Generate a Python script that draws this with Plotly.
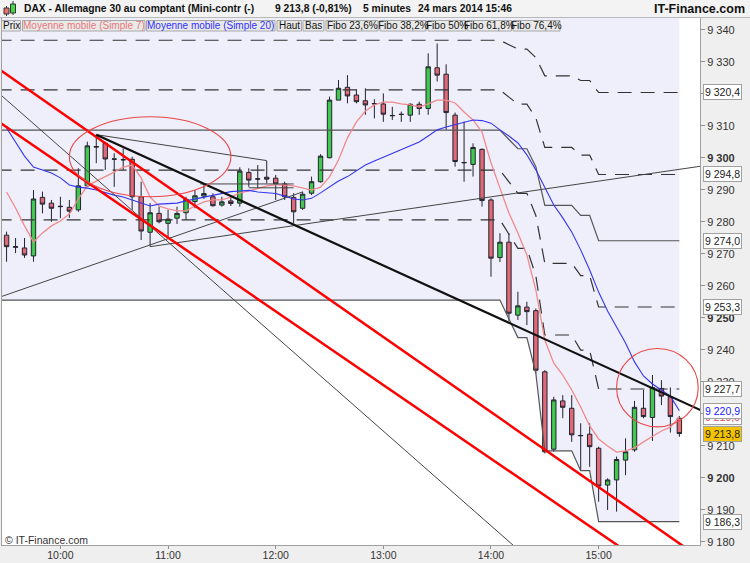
import pandas as pd
import plotly.graph_objects as go

# ---------------- data ----------------
times = [t.strftime("%Y-%m-%d %H:%M")
         for t in pd.date_range("2014-03-24 09:30", "2014-03-24 15:45", freq="5min")]
opens = [9275.8, 9272.0, 9271.8, 9269.3, 9287.6, 9285.8, 9284.7, 9284.5, 9283.7, 9291.2,
         9303.3, 9304.5, 9299.5, 9299.3, 9299.5, 9287.8, 9276.7, 9282.6, 9279.5, 9281.1,
         9282.8, 9286.3, 9288.0, 9287.8, 9285.2, 9286.5, 9285.8, 9295.4, 9293.3, 9293.9,
         9293.6, 9291.8, 9287.6, 9284.2, 9288.9, 9292.5, 9300.0, 9318.0, 9322.0, 9319.6,
         9317.8, 9316.8, 9316.8, 9313.1, 9313.6, 9313.3, 9316.7, 9315.4, 9328.1, 9326.1,
         9313.3, 9298.4, 9297.9, 9302.6, 9286.8, 9268.8, 9273.6, 9250.8, 9253.3, 9252.2,
         9233.1, 9208.9, 9224.0, 9221.7, 9213.1, 9213.6, 9209.2, 9197.7, 9199.3, 9205.5,
         9208.7, 9221.7, 9218.8, 9227.9, 9225.3, 9218.6]
highs = [9276.9, 9274.9, 9274.9, 9289.9, 9289.4, 9286.8, 9287.8, 9286.8, 9296.7, 9305.0,
         9307.1, 9305.0, 9301.4, 9302.9, 9300.3, 9292.5, 9285.8, 9284.7, 9283.7, 9284.7,
         9287.8, 9289.9, 9291.5, 9288.9, 9287.8, 9287.8, 9297.0, 9296.7, 9297.7, 9299.0,
         9294.6, 9292.5, 9288.9, 9289.4, 9294.1, 9301.1, 9319.1, 9324.3, 9325.8, 9321.4,
         9321.7, 9318.3, 9320.1, 9315.9, 9314.4, 9317.0, 9317.5, 9332.6, 9335.7, 9329.2,
         9314.1, 9311.3, 9304.5, 9302.9, 9287.3, 9276.4, 9276.4, 9258.1, 9255.0, 9252.9,
         9233.6, 9225.3, 9225.8, 9225.8, 9217.0, 9217.0, 9209.7, 9199.8, 9206.6, 9212.3,
         9224.0, 9227.4, 9232.1, 9230.5, 9228.2, 9219.3]
lows = [9267.5, 9270.2, 9268.7, 9267.5, 9282.6, 9280.0, 9281.1, 9281.2, 9283.1, 9290.8,
        9298.3, 9296.2, 9290.9, 9296.2, 9283.7, 9274.3, 9272.2, 9279.5, 9275.3, 9279.3,
        9280.5, 9284.2, 9287.1, 9284.7, 9284.7, 9284.9, 9284.7, 9290.9, 9290.4, 9292.0,
        9286.8, 9286.8, 9279.5, 9283.7, 9288.3, 9292.2, 9299.8, 9318.0, 9317.0, 9317.0,
        9313.4, 9312.3, 9311.2, 9311.8, 9311.2, 9311.2, 9313.4, 9313.4, 9323.8, 9308.7,
        9297.2, 9292.5, 9294.1, 9284.7, 9262.8, 9267.4, 9249.0, 9249.3, 9247.7, 9232.6,
        9207.6, 9208.1, 9218.6, 9211.2, 9202.4, 9203.4, 9192.5, 9189.9, 9189.4, 9200.8,
        9208.1, 9218.6, 9211.5, 9222.7, 9214.1, 9212.8]
closes = [9272.2, 9272.2, 9269.6, 9287.1, 9285.5, 9284.2, 9284.8, 9283.3, 9291.2, 9303.7,
          9303.5, 9299.6, 9299.6, 9299.4, 9287.8, 9277.1, 9282.8, 9280.0, 9280.8, 9282.6,
          9287.0, 9288.1, 9288.8, 9285.0, 9286.2, 9285.7, 9295.8, 9293.0, 9293.4, 9293.3,
          9291.8, 9287.8, 9283.1, 9288.6, 9292.5, 9300.5, 9318.0, 9321.7, 9319.3, 9317.5,
          9316.5, 9316.9, 9313.6, 9313.2, 9313.5, 9316.7, 9315.4, 9328.4, 9325.8, 9314.1,
          9298.8, 9298.5, 9303.2, 9286.6, 9268.6, 9273.6, 9251.4, 9253.7, 9251.9, 9233.6,
          9208.1, 9224.3, 9222.0, 9213.4, 9213.2, 9209.7, 9197.4, 9199.3, 9205.7, 9208.1,
          9222.0, 9219.1, 9228.2, 9225.5, 9219.1, 9213.8]

ma7 = [9289.3, 9284.3, 9278.7, 9273.7, 9276.5, 9278.7, 9280.2, 9282.4, 9287.1, 9291.2,
       9292.7, 9294.0, 9295.5, 9297.1, 9297.7, 9293.7, 9287.7, 9284.9, 9284.0, 9283.4,
       9283.4, 9284.9, 9286.2, 9286.8, 9286.8, 9287.7, 9289.0, 9289.6, 9290.5, 9291.2,
       9291.5, 9291.5, 9291.2, 9290.5, 9289.9, 9290.8, 9294.0, 9299.3, 9306.2, 9311.2,
       9314.6, 9316.5, 9317.4, 9317.4, 9316.8, 9316.5, 9315.8, 9316.8, 9318.0, 9318.0,
       9317.1, 9314.3, 9311.8, 9308.0, 9298.4, 9290.5, 9282.7, 9276.5, 9269.6, 9258.7,
       9243.0, 9235.8, 9232.1, 9227.4, 9222.1, 9216.2, 9212.1, 9209.9, 9208.0, 9208.4,
       9209.3, 9211.2, 9213.0, 9214.6, 9215.8, 9219.0]
ma20 = [9309.3, 9304.9, 9300.5, 9297.1, 9296.2, 9295.2, 9293.7, 9291.5, 9290.8, 9290.5,
        9289.9, 9289.0, 9288.3, 9287.7, 9286.8, 9285.8, 9284.9, 9285.5, 9285.7, 9285.8,
        9286.5, 9287.1, 9287.7, 9288.3, 9288.8, 9289.4, 9289.6, 9289.8, 9289.3, 9289.1,
        9288.8, 9288.0, 9287.1, 9286.8, 9287.3, 9289.0, 9290.8, 9292.7, 9294.1, 9295.8,
        9297.7, 9299.0, 9300.2, 9301.2, 9302.4, 9303.8, 9304.9, 9306.8, 9308.7, 9309.6,
        9310.4, 9311.2, 9311.8, 9311.6, 9310.8, 9308.7, 9306.8, 9304.6, 9300.9, 9296.2,
        9290.5, 9285.2, 9281.2, 9276.8, 9271.2, 9264.9, 9258.0, 9252.1, 9247.1, 9242.1,
        9236.2, 9231.8, 9229.3, 9227.4, 9225.5, 9220.9]

band_times = [t.strftime("%Y-%m-%d %H:%M")
              for t in pd.date_range("2014-03-24 09:25", "2014-03-24 15:45", freq="5min")]
haut = [9361.8] * 77
bas = ([9255.5] * 57 + [9249.6, 9243.8, 9243.8, 9232.6] + [9208.4] * 4
       + [9202.2] * 2 + [9186.3] * 10)
fib_ratios = [0.764, 0.618, 0.5, 0.382, 0.236]

# hand-drawn trendlines (anchor time, price)
red_line_1_t = ["2014-03-24 09:25", "2014-03-24 16:00"]
red_line_1_p = [9328.0, 9173.6]
red_line_2_t = ["2014-03-24 09:25", "2014-03-24 16:00"]
red_line_2_p = [9311.5, 9159.9]
black_trend_t = ["2014-03-24 10:20", "2014-03-24 16:00"]
black_trend_p = [9307.2, 9220.3]
thin_down_t = ["2014-03-24 09:25", "2014-03-24 14:15"]
thin_down_p = [9320.5, 9177.6]
triangle_top_t = ["2014-03-24 10:20", "2014-03-24 11:55"]
triangle_top_p = [9307.2, 9299.1]
rising_long_t = ["2014-03-24 10:50", "2014-03-24 16:00"]
rising_long_p = [9272.2, 9297.6]
rising_low_t = ["2014-03-24 09:25", "2014-03-24 12:15"]
rising_low_p = [9256.2, 9289.3]
support_t = ["2014-03-24 11:18", "2014-03-24 12:10"]
support_p = [9291.8, 9291.8]
support2_t = ["2014-03-24 11:45", "2014-03-24 12:10"]
support2_p = [9290.6, 9290.6]
ellipse_1 = ("2014-03-24 10:05", "2014-03-24 11:35", 9287.8, 9312.8)
ellipse_2 = ("2014-03-24 15:10", "2014-03-24 15:55:30", 9215.9, 9240.4)

y_ticks = list(range(9180, 9341, 10))
x_ticks = ["2014-03-24 10:00", "2014-03-24 11:00", "2014-03-24 12:00",
           "2014-03-24 13:00", "2014-03-24 14:00", "2014-03-24 15:00"]
x_tick_labels = ["10:00", "11:00", "12:00", "13:00", "14:00", "15:00"]

# ---------------- figure ----------------
W, H = 750, 563
ML, MR, MT, MB = 2, 50, 18, 18
PW, PH = W - ML - MR, H - MT - MB
FONT = "Liberation Sans, Arial, sans-serif"


def px(x):
    return (x - ML) / PW


def py(y):
    return (H - MB - y) / PH


def fmt(v):
    return f"{v:,.1f}".replace(",", " ").replace(".", ",")


fig = go.Figure()

# band between Haut and Bas (translucent so the candles below stay visible)
fig.add_trace(go.Scatter(x=band_times, y=haut, mode="lines",
                         line=dict(color="rgba(0,0,0,0)", width=0), hoverinfo="skip"))
fig.add_trace(go.Scatter(x=band_times, y=bas, mode="lines", fill="tonexty",
                         fillcolor="rgba(0,0,210,0.062)",
                         line=dict(color="#555555", width=1.2), hoverinfo="skip"))

fib_levels = {}
for r in fib_ratios:
    lvl = [b + r * (h - b) for h, b in zip(haut, bas)]
    fib_levels[r] = lvl
    dash = "solid" if r == 0.5 else "14px,9px"
    col = "#555555" if r == 0.5 else "#333333"
    fig.add_trace(go.Scatter(x=band_times, y=lvl, mode="lines",
                             line=dict(color=col, width=1.2, dash=dash), hoverinfo="skip"))

fig.add_trace(go.Candlestick(
    x=times, open=opens, high=highs, low=lows, close=closes,
    increasing=dict(line=dict(color="#262626", width=1), fillcolor="#46D646"),
    decreasing=dict(line=dict(color="#262626", width=1), fillcolor="#EE7070"),
    whiskerwidth=0))

fig.add_trace(go.Scatter(x=times, y=ma7, mode="lines",
                         line=dict(color="#F08A8A", width=1.3), hoverinfo="skip"))
fig.add_trace(go.Scatter(x=times, y=ma20, mode="lines",
                         line=dict(color="#3535F0", width=1.1), hoverinfo="skip"))

thin_col = "#444444"
for t, p, c, w in [
    (thin_down_t, thin_down_p, thin_col, 1),
    (triangle_top_t, triangle_top_p, thin_col, 1),
    (rising_long_t, rising_long_p, thin_col, 1),
    (rising_low_t, rising_low_p, thin_col, 1),
    (support_t, support_p, thin_col, 1),
    (support2_t, support2_p, thin_col, 1),
    (red_line_1_t, red_line_1_p, "#FF0000", 2.5),
    (red_line_2_t, red_line_2_p, "#FF0000", 2.5),
    (black_trend_t, black_trend_p, "#111111", 2.2),
]:
    fig.add_trace(go.Scatter(x=t, y=p, mode="lines", line=dict(color=c, width=w),
                             hoverinfo="skip"))

for e in (ellipse_1, ellipse_2):
    fig.add_shape(type="circle", xref="x", yref="y", x0=e[0], x1=e[1], y0=e[2], y1=e[3],
                  line=dict(color="#E84848", width=1.1), layer="above")

# header bar
fig.add_shape(type="rect", xref="paper", yref="paper", x0=px(0), x1=px(750),
              y0=py(17.5), y1=py(0), fillcolor="#F3F3F3", line=dict(width=0), layer="above")
fig.add_shape(type="line", xref="paper", yref="paper", x0=px(0), x1=px(750),
              y0=py(17.5), y1=py(17.5), line=dict(color="#B8B8B8", width=1))
# small candle icon
fig.add_shape(type="line", xref="paper", yref="paper", x0=px(6.5), x1=px(6.5),
              y0=py(16), y1=py(6), line=dict(color="#333", width=1))
fig.add_shape(type="rect", xref="paper", yref="paper", x0=px(4), x1=px(9),
              y0=py(14), y1=py(8), fillcolor="#EE7070", line=dict(color="#333", width=1))
fig.add_shape(type="line", xref="paper", yref="paper", x0=px(13), x1=px(13),
              y0=py(15), y1=py(1), line=dict(color="#333", width=1))
fig.add_shape(type="rect", xref="paper", yref="paper", x0=px(10.5), x1=px(15.5),
              y0=py(13), y1=py(4), fillcolor="#46D646", line=dict(color="#333", width=1))

header = [
    (22, "DAX - Allemagne 30 au comptant (Mini-contr (-)"),
    (273, fmt(closes[-1]) + " (-0,81%)"),
    (361, "5 minutes"),
    (416, "24 mars 2014 15:46"),
]
for x, t in header:
    fig.add_annotation(xref="paper", yref="paper", x=px(x), y=py(9), xanchor="left",
                       yanchor="middle", text="<b>" + t + "</b>", showarrow=False,
                       font=dict(family=FONT, size=10.3, color="#111111"))
fig.add_annotation(xref="paper", yref="paper", x=px(747), y=py(9), xanchor="right",
                   yanchor="middle", text="<b>IT-Finance.com</b>", showarrow=False,
                   font=dict(family=FONT, size=12.5, color="#111111"))

# toolbar buttons (label, colour, left px, right px)
toolbar = [
    ("Prix", "#111111", 1.5, 20.5),
    ("Moyenne mobile (Simple 7)", "#E87878", 22.5, 145),
    ("Moyenne mobile (Simple 20)", "#3030FF", 146.5, 275),
    ("Haut", "#111111", 277, 301.5),
    ("Bas", "#111111", 303, 324),
    ("Fibo 23,6%", "#111111", 326, 378),
    ("Fibo 38,2%", "#111111", 380, 426),
    ("Fibo 50%", "#111111", 428, 465.5),
    ("Fibo 61,8%", "#111111", 467, 511.5),
    ("Fibo 76,4%", "#111111", 513, 560),
]
for lab, col, x0, x1 in toolbar:
    fig.add_shape(type="rect", xref="paper", yref="paper", x0=px(x0), x1=px(x1),
                  y0=py(31), y1=py(20.5), fillcolor="#E9E9E9",
                  line=dict(color="#A8A8A8", width=1), layer="above")
    fig.add_annotation(xref="paper", yref="paper", x=px((x0 + x1) / 2), y=py(25.8),
                       xanchor="center", yanchor="middle", text=lab, showarrow=False,
                       font=dict(family=FONT, size=10, color=col))

fig.add_annotation(xref="paper", yref="paper", x=px(3), y=py(540), xanchor="left",
                   yanchor="middle", text="© IT-Finance.com", showarrow=False,
                   font=dict(family=FONT, size=10.5, color="#333333"))

# value tags on the price axis
tags = [
    (fib_levels[0.764][-1], "#222222", "#FFFFFF"),
    (fib_levels[0.618][-1], "#222222", "#FFFFFF"),
    (fib_levels[0.5][-1], "#222222", "#FFFFFF"),
    (fib_levels[0.382][-1], "#222222", "#FFFFFF"),
    (fib_levels[0.236][-1], "#222222", "#FFFFFF"),
    (ma7[-1], "#E05050", "#FFFFFF"),
    (ma20[-1], "#2020FF", "#FFFFFF"),
    (closes[-1], "#222222", "#F4C300"),
    (bas[-1], "#222222", "#FFFFFF"),
]
for v, tc, bg in tags:
    fig.add_annotation(xref="paper", yref="y", x=px(703), y=v, xanchor="left",
                       yanchor="middle", text=fmt(v), showarrow=False,
                       font=dict(family=FONT, size=10.5, color=tc), bgcolor=bg,
                       bordercolor="#A0A0A0", borderwidth=1, borderpad=1)

y_tick_text = [("<b>" + fmt(v)[:-2] + "</b>") if v % 50 == 0 else fmt(v)[:-2]
               for v in y_ticks]

fig.update_layout(
    width=W, height=H, margin=dict(l=ML, r=MR, t=MT, b=MB, pad=0),
    paper_bgcolor="#EFEFEF", plot_bgcolor="#FFFFFF", showlegend=False,
    font=dict(family=FONT, size=11, color="#333333"),
    xaxis=dict(type="date", range=["2014-03-24 09:27:27", "2014-03-24 15:56:30"],
               tickvals=x_ticks, ticktext=x_tick_labels, showgrid=False, zeroline=False,
               showline=True, linecolor="#A0A0A0", linewidth=1, mirror=True,
               ticks="outside", ticklen=3, tickcolor="#909090", ticklabelstandoff=-3,
               tickfont=dict(size=10.5),
               rangeslider=dict(visible=False), fixedrange=True, automargin=False),
    yaxis=dict(side="right", range=[9178.97, 9343.66], tickvals=y_ticks,
               ticktext=y_tick_text, showgrid=False, zeroline=False,
               showline=True, linecolor="#A0A0A0", linewidth=1, mirror=True,
               ticks="outside", ticklen=4, tickcolor="#909090", automargin=False),
)

fig.write_html("out.html", config={"displayModeBar": False},
               post_script="document.body.style.margin='0px';"
                           "document.body.style.padding='0px';"
                           "document.body.style.overflow='hidden';")
